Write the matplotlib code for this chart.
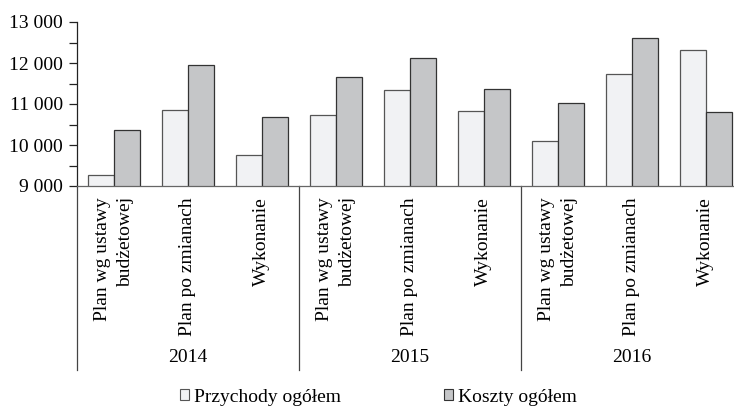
import numpy as np
import matplotlib.pyplot as plt
from matplotlib.patches import Patch
from matplotlib.ticker import MultipleLocator, FuncFormatter
import matplotlib.transforms as mtransforms

plt.rcParams['font.family'] = ['Liberation Serif', 'DejaVu Serif']
plt.rcParams['font.size'] = 14

#Data
categories = ['Plan wg ustawy\nbudżetowej', 'Plan po zmianach', 'Wykonanie'] * 3
years = ['2014', '2015', '2016']
przychody = [9280, 10860, 9750, 10720, 11340, 10830, 10090, 11730, 12320]
koszty = [10370, 11950, 10680, 11670, 12130, 11370, 11030, 12620, 10800]
series_names = ['Przychody ogółem', 'Koszty ogółem']

#Style
col_p = '#f1f2f4'
col_k = '#c5c6c8'
edge = '#333333'
width = 0.35

fig = plt.figure(figsize=(7.34, 4.07), dpi=100)
ax = fig.add_axes([76.7/734, 1-186/407, 666/734, 164/407])

x = np.arange(len(categories))
ax.bar(x - width/2, przychody, width, color=col_p, edgecolor='#555555', linewidth=0.9)
ax.bar(x + width/2, koszty, width, color=col_k, edgecolor=edge, linewidth=0.9)

ax.set_xlim(-0.5, len(categories) - 0.5)
ax.set_ylim(9000, 13000)

ax.yaxis.set_major_locator(MultipleLocator(500))
ax.yaxis.set_major_formatter(FuncFormatter(
    lambda v, p: '{:,}'.format(int(v)).replace(',', ' ') if v % 1000 == 0 else ''))
ax.tick_params(axis='y', direction='out', length=6, width=0.9, pad=4, color='#222222')

ax.set_xticks(x)
ax.set_xticklabels(categories, rotation=90, va='top', ha='center')
for lab in ax.get_xticklabels():
    lab.set_multialignment('right')
    lab.set_linespacing(1.45)
ax.tick_params(axis='x', length=0, pad=8)

for s in ['top', 'right']:
    ax.spines[s].set_visible(False)
ax.spines['left'].set_color('#222222')
ax.spines['bottom'].set_color('#666666')
ax.spines['left'].set_linewidth(0.9)
ax.spines['bottom'].set_linewidth(0.9)

#group separators and year labels below the axis
trans = mtransforms.blended_transform_factory(ax.transData, ax.transAxes)
low = -184/164
for b in [-0.5, 2.5, 5.5]:
    ax.plot([b, b], [0, low], transform=trans, color='#444444', lw=0.9, clip_on=False)
for i, yr in enumerate(years):
    ax.text(3*i + 1, -172/164, yr, transform=trans, ha='center', va='center')

handles = [Patch(facecolor=col_p, edgecolor='#555555', linewidth=0.8),
           Patch(facecolor=col_k, edgecolor=edge, linewidth=0.8)]
fig.legend(handles, series_names, loc='center', bbox_to_anchor=(378/734, 1-397/407),
           ncol=2, frameon=False, handlelength=0.47, handleheight=0.47,
           handletextpad=0.25, columnspacing=5.3, fontsize=14, borderpad=0.1)

plt.savefig('out.png', dpi=100)
